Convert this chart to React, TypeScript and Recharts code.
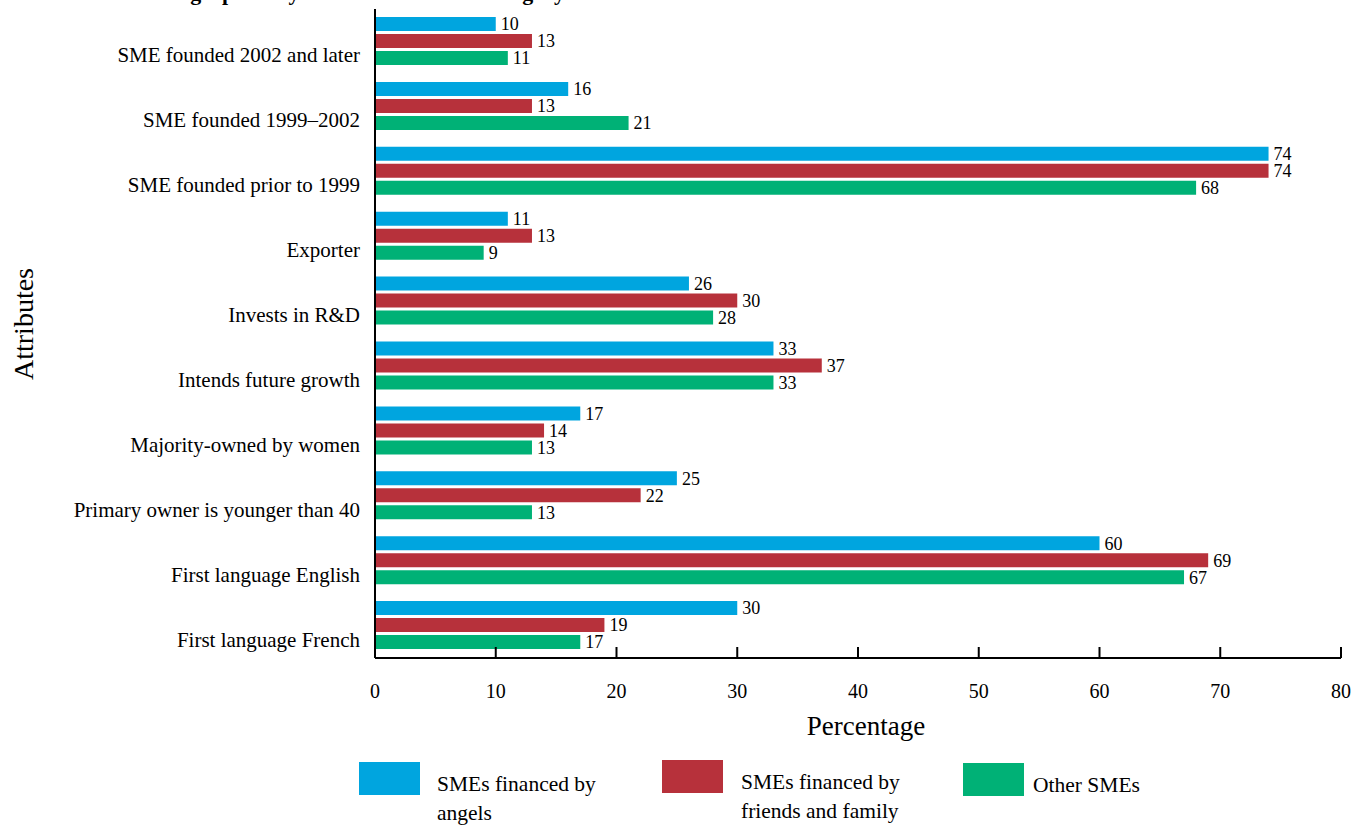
import { BarChart, Bar, XAxis, YAxis, LabelList } from 'recharts'

const categories = [
  'SME founded 2002 and later',
  'SME founded 1999–2002',
  'SME founded prior to 1999',
  'Exporter',
  'Invests in R&D',
  'Intends future growth',
  'Majority-owned by women',
  'Primary owner is younger than 40',
  'First language English',
  'First language French',
]
const angels = [10, 16, 74, 11, 26, 33, 17, 25, 60, 30]
const friendsFamily = [13, 13, 74, 13, 30, 37, 14, 22, 69, 19]
const otherSmes = [11, 21, 68, 9, 28, 33, 13, 13, 67, 17]
const xTicks = [0, 10, 20, 30, 40, 50, 60, 70, 80]

const series = [
  { key: 'angels', label: ['SMEs financed by', 'angels'], color: '#00A5DF' },
  { key: 'friends', label: ['SMEs financed by', 'friends and family'], color: '#B7313B' },
  { key: 'other', label: ['Other SMEs'], color: '#00B176' },
]

const data = categories.map((name, i) => ({
  name,
  angels: angels[i],
  friends: friendsFamily[i],
  other: otherSmes[i],
}))

const FONT = '"Liberation Serif", "Times New Roman", serif'

const PercentTick = (props: any) => {
  const { x, y, payload } = props
  return (
    <g>
      <line x1={x} x2={x} y1={y - 11} y2={y} stroke="#000" strokeWidth={2} />
      <text x={x} y={y + 40} textAnchor="middle" fontSize={20} fontFamily={FONT} fill="#000">
        {payload.value}
      </text>
    </g>
  )
}

const AttrTick = (props: any) => {
  const { x, y, payload } = props
  return (
    <text x={x - 15} y={y + 21} textAnchor="end" fontSize={21} fontFamily={FONT} fill="#000">
      {payload.value}
    </text>
  )
}

// legend boxes sit at slightly different heights in the original
const legendPos = [
  { left: 359, top: 762, textLeft: 437 },
  { left: 662, top: 760, textLeft: 741 },
  { left: 963, top: 763, textLeft: 1033 },
]

export default function App() {
  return (
    <div style={{ position: 'fixed', left: 0, top: 0, width: 1355, height: 828, background: '#fff' }}>
      <BarChart
        width={1355}
        height={828}
        data={data}
        layout="vertical"
        margin={{ top: 9, right: 14, bottom: 70, left: 0 }}
        barSize={14}
        barGap={3}
      >
        {/* title is cropped off the top in the source, only the descenders show */}
        <text x={565} y={0} textAnchor="end" fontSize={22} fontWeight="bold" fontFamily={FONT} fill="#000">
          Business Demographics by Informal Investor Category
        </text>
        <XAxis
          type="number"
          domain={[0, 80]}
          ticks={xTicks}
          height={100}
          tickSize={0}
          tickMargin={0}
          tickLine={false}
          axisLine={{ stroke: '#000', strokeWidth: 2 }}
          tick={<PercentTick />}
          interval={0}
          label={{
            content: () => (
              <text x={866} y={735} textAnchor="middle" fontSize={27} fontFamily={FONT} fill="#000">
                Percentage
              </text>
            ),
          }}
        />
        <YAxis
          type="category"
          dataKey="name"
          width={375}
          tickSize={0}
          tickMargin={0}
          tickLine={false}
          axisLine={{ stroke: '#000', strokeWidth: 2 }}
          tick={<AttrTick />}
          interval={0}
          label={{
            content: () => (
              <text
                x={33}
                y={324}
                textAnchor="middle"
                fontSize={28}
                fontFamily={FONT}
                fill="#000"
                transform="rotate(-90, 33, 324)"
              >
                Attributes
              </text>
            ),
          }}
        />
        {series.map(s => (
          <Bar key={s.key} dataKey={s.key} fill={s.color} isAnimationActive={false}>
            <LabelList
              dataKey={s.key}
              position="right"
              offset={5}
              fontSize={18}
              fontFamily={FONT}
              fill="#000"
            />
          </Bar>
        ))}
      </BarChart>
      {series.map((s, i) => (
        <div key={s.key}>
          <div
            style={{
              position: 'absolute',
              left: legendPos[i].left,
              top: legendPos[i].top,
              width: 61,
              height: 33,
              background: s.color,
            }}
          />
          <div
            style={{
              position: 'absolute',
              left: legendPos[i].textLeft,
              top: legendPos[i].top + 8,
              fontFamily: FONT,
              fontSize: 21.5,
              lineHeight: '29px',
              color: '#000',
              whiteSpace: 'nowrap',
            }}
          >
            {s.label.map(l => (
              <div key={l}>{l}</div>
            ))}
          </div>
        </div>
      ))}
    </div>
  )
}
